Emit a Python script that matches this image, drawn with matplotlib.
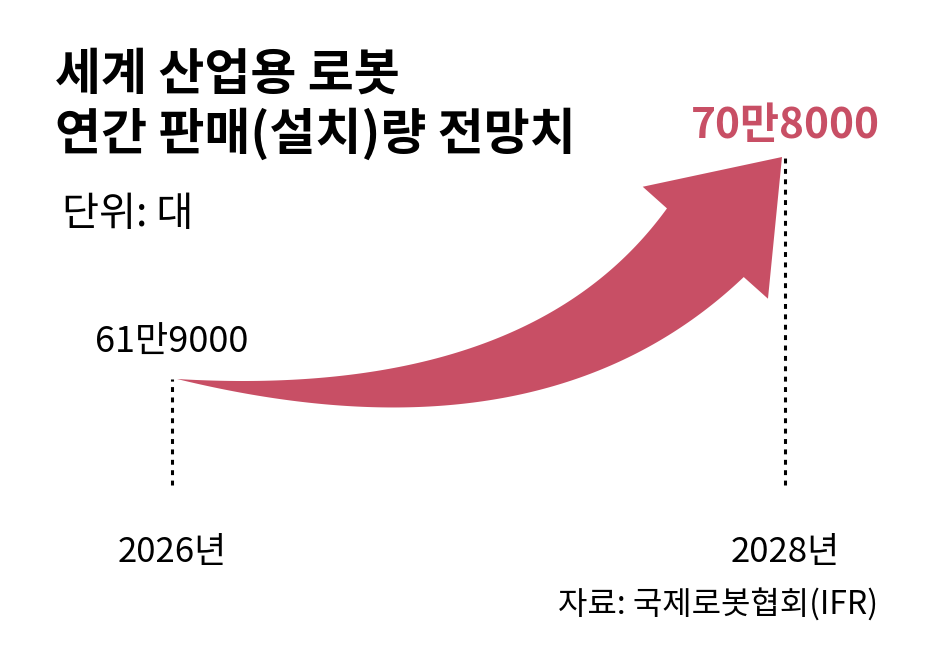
import numpy as np
import matplotlib
matplotlib.use('Agg')
import matplotlib.pyplot as plt
from matplotlib.patches import Polygon

plt.rcParams['font.family'] = ['Noto Sans CJK KR', 'DejaVu Sans']

# data
years = [2026, 2028]
values = [619000, 708000]
value_labels = ['61만9000', '70만8000']
year_labels = ['2026년', '2028년']
title_lines = ['세계 산업용 로봇', '연간 판매(설치)량 전망치']
unit_text = '단위: 대'
source_text = '자료: 국제로봇협회(IFR)'

RED = '#C84F65'
W, H = 946, 651

fig = plt.figure(figsize=(W / 100, H / 100), dpi=100)
ax = fig.add_axes([0, 0, 1, 1])
ax.set_axis_off()

# axis scale: where the two data points sit on the canvas (pixels from left / top)
px_x = [172, 785]
px_y = [379, 157]
kx = (years[1] - years[0]) / (px_x[1] - px_x[0])
ky = (values[1] - values[0]) / (px_y[0] - px_y[1])
ax.set_xlim(years[0] - px_x[0] * kx, years[0] + (W - px_x[0]) * kx)
ax.set_ylim(values[0] - (H - px_y[0]) * ky, values[1] + px_y[1] * ky)

# dotted guides down from each point
y0, y1 = ax.get_ylim()
base = y0 + (1 - 485 / H) * (y1 - y0)
ax.vlines(years, base, values, colors='black', linewidth=2.2,
          linestyles=(0, (1.6, 1.8)))

# curved arrow, built in display space from the two data points
fig.canvas.draw()
to_disp = ax.transData.transform
to_data = ax.transData.inverted().transform
p0 = to_disp((years[0], values[0])) + np.array([5, 0])
tip = to_disp((years[1], values[1])) + np.array([-3, 0])

ang = np.deg2rad(48.2)
d = np.array([np.cos(ang), np.sin(ang)])
head_len, head_half, shaft_w = 115, 84, 103
b = tip - head_len * d
ctrl = b - 255 * d

u = np.linspace(0, 1, 120)[:, None]
curve = (1 - u) ** 2 * p0 + 2 * u * (1 - u) * ctrl + u ** 2 * b
tang = 2 * (1 - u) * (ctrl - p0) + 2 * u * (b - ctrl)
tang = tang / np.linalg.norm(tang, axis=1)[:, None]
normal = np.column_stack([-tang[:, 1], tang[:, 0]])
seg = np.linalg.norm(np.diff(curve, axis=0), axis=1)
s = np.concatenate([[0], np.cumsum(seg)])
w = shaft_w * (s / s[-1])[:, None] / 2
upper = curve + normal * w
lower = curve - normal * w
nb = np.array([-d[1], d[0]])
outline = np.vstack([lower, [b - nb * head_half], [tip], [b + nb * head_half], upper[::-1]])
ax.add_patch(Polygon(to_data(outline), closed=True, facecolor=RED, edgecolor='none'))

# value labels
ax.annotate(value_labels[0], (years[0], values[0]), xytext=(0, 19), textcoords='offset points',
            ha='center', va='baseline', fontsize=26, color='black')
ax.annotate(value_labels[1], (years[1], values[1]), xytext=(0, 14), textcoords='offset points',
            ha='center', va='baseline', fontsize=30.5, fontweight='bold', color=RED)

# year labels
for yr, lab in zip(years, year_labels):
    ax.annotate(lab, (yr, 1 - 562 / H), xycoords=('data', 'axes fraction'),
                ha='center', va='baseline', fontsize=25, color='black')

# title, unit, source
fig.text(55 / W, 1 - 90 / H, title_lines[0], fontsize=36, fontweight='bold', va='baseline')
fig.text(55 / W, 1 - 150 / H, title_lines[1], fontsize=36, fontweight='bold', va='baseline')
fig.text(62 / W, 1 - 226 / H, unit_text, fontsize=29, va='baseline')
fig.text(878 / W, 1 - 615 / H, source_text, fontsize=23, ha='right', va='baseline')

fig.savefig('out.png', dpi=100, facecolor='white')
